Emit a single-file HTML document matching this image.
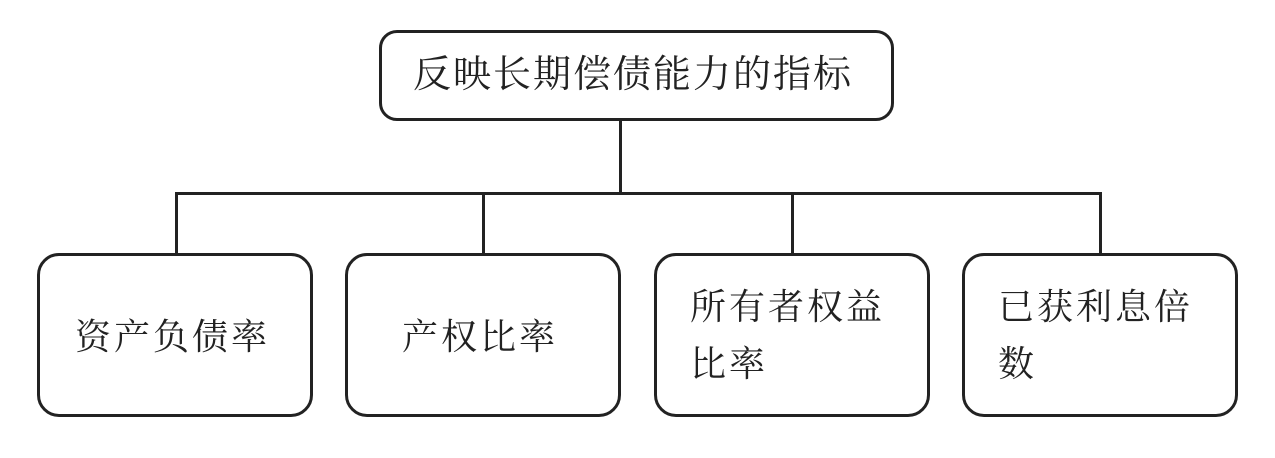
<!DOCTYPE html>
<html><head><meta charset="utf-8"><style>
body{margin:0;background:#fff;width:1275px;height:458px;overflow:hidden;position:relative;font-family:"Liberation Serif","Noto Serif CJK SC",serif;color:#222}
.b{position:absolute;border:3px solid #222;border-radius:22px;box-sizing:border-box}
.l{position:absolute;background:#222}
.t{position:absolute;font-size:36px;letter-spacing:3px;line-height:57px;white-space:nowrap}
</style></head><body>
<div class="b" style="left:379px;top:30px;width:515px;height:91px;border-radius:18px"></div>
<div class="t" style="left:413px;top:47px;font-size:38px;letter-spacing:2px">反映长期偿债能力的指标</div>
<div class="l" style="left:619px;top:120px;width:3px;height:75px"></div>
<div class="l" style="left:175px;top:192px;width:927px;height:3px"></div>
<div class="l" style="left:175px;top:192px;width:3px;height:62px"></div>
<div class="l" style="left:482px;top:192px;width:3px;height:62px"></div>
<div class="l" style="left:791px;top:192px;width:3px;height:62px"></div>
<div class="l" style="left:1099px;top:192px;width:3px;height:62px"></div>
<div class="b" style="left:37px;top:253px;width:276px;height:164px"></div>
<div class="b" style="left:345px;top:253px;width:276px;height:164px"></div>
<div class="b" style="left:654px;top:253px;width:276px;height:164px"></div>
<div class="b" style="left:962px;top:253px;width:276px;height:164px"></div>
<div class="t" style="left:75px;top:309px">资产负债率</div>
<div class="t" style="left:402px;top:309px">产权比率</div>
<div class="t" style="left:690px;top:279px">所有者权益<br>比率</div>
<div class="t" style="left:998px;top:279px">已获利息倍<br>数</div>
</body></html>
